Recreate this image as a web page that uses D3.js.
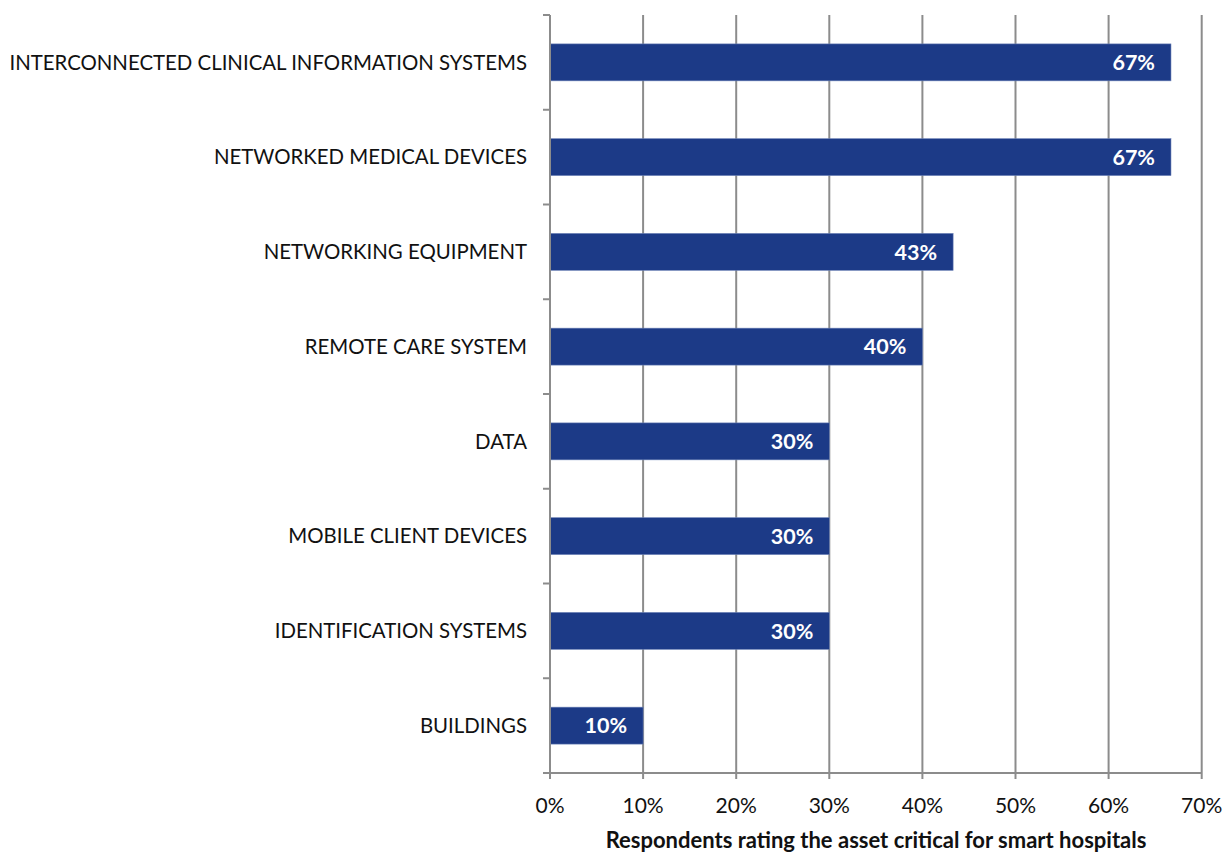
<!DOCTYPE html>
<html><head><meta charset="utf-8">
<script src="https://cdn.jsdelivr.net/npm/d3@7"></script>
<style>body{margin:0;background:#fff}svg{display:block}</style>
</head><body><svg id="c" width="1226" height="853"></svg>
<script>
const categories = ["INTERCONNECTED CLINICAL INFORMATION SYSTEMS","NETWORKED MEDICAL DEVICES","NETWORKING EQUIPMENT","REMOTE CARE SYSTEM","DATA","MOBILE CLIENT DEVICES","IDENTIFICATION SYSTEMS","BUILDINGS"];
const values = [0.667,0.667,0.433,0.40,0.30,0.30,0.30,0.10];
const labels = ["67%","67%","43%","40%","30%","30%","30%","10%"];
const xTicks = [0,0.1,0.2,0.3,0.4,0.5,0.6,0.7];
const xTitle = "Respondents rating the asset critical for smart hospitals";

const svg = d3.select("#c");
const font = "Lato, 'Open Sans', sans-serif";
const L = 550, R = 1201.7, T = 15, B = 773;
const x = d3.scaleLinear().domain([0,0.7]).range([L,R]);
const y = d3.scaleBand().domain(categories).range([T,B]).paddingInner(0.61).paddingOuter(0.305);
const band = (B-T)/categories.length;

// gridlines
svg.append("g").selectAll("line").data(xTicks.slice(1)).join("line")
  .attr("x1",d=>x(d)).attr("x2",d=>x(d)).attr("y1",T).attr("y2",B)
  .attr("stroke","#8c8c8c").attr("stroke-width",2);

// bars
svg.append("g").selectAll("rect").data(values).join("rect")
  .attr("x",x(0)).attr("y",(d,i)=>y(categories[i]))
  .attr("width",d=>x(d)-x(0)).attr("height",y.bandwidth())
  .attr("fill","#1c3a87").attr("stroke","#6f84b8").attr("stroke-width",0.6);

// value labels
svg.append("g").selectAll("text").data(values).join("text")
  .attr("x",d=>x(d)-16).attr("y",(d,i)=>y(categories[i])+y.bandwidth()/2)
  .attr("dy","0.36em").attr("text-anchor","end")
  .attr("fill","#fff").attr("font-family",font).attr("font-weight","bold").attr("font-size",21.5)
  .text((d,i)=>labels[i]);

// left axis
const ax = svg.append("g");
ax.append("line").attr("x1",L).attr("x2",L).attr("y1",T).attr("y2",B+6).attr("stroke","#8c8c8c").attr("stroke-width",2);
ax.selectAll("line.t").data(d3.range(categories.length+1)).join("line").attr("class","t")
  .attr("x1",L-7).attr("x2",L).attr("y1",i=>T+i*band).attr("y2",i=>T+i*band)
  .attr("stroke","#8c8c8c").attr("stroke-width",2);
ax.selectAll("text").data(categories).join("text")
  .attr("x",527).attr("y",d=>y(d)+y.bandwidth()/2).attr("dy","0.36em")
  .attr("text-anchor","end").attr("font-family",font).attr("font-size",20.4).attr("fill","#111")
  .text(d=>d);

// bottom axis
const bx = svg.append("g");
bx.append("line").attr("x1",L-7).attr("x2",R).attr("y1",B).attr("y2",B).attr("stroke","#8c8c8c").attr("stroke-width",2);
bx.selectAll("line.t").data(xTicks).join("line").attr("class","t")
  .attr("x1",d=>x(d)).attr("x2",d=>x(d)).attr("y1",B).attr("y2",B+6)
  .attr("stroke","#8c8c8c").attr("stroke-width",2);
bx.selectAll("text").data(xTicks).join("text")
  .attr("x",d=>x(d)).attr("y",805).attr("dy","0.36em").attr("text-anchor","middle")
  .attr("font-family",font).attr("font-size",21).attr("fill","#111")
  .text(d=>d3.format(".0%")(d));

svg.append("text").attr("x",876).attr("y",840).attr("dy","0.36em").attr("text-anchor","middle")
  .attr("font-family",font).attr("font-weight","bold").attr("font-size",22).attr("fill","#111")
  .text(xTitle);
</script></body></html>
